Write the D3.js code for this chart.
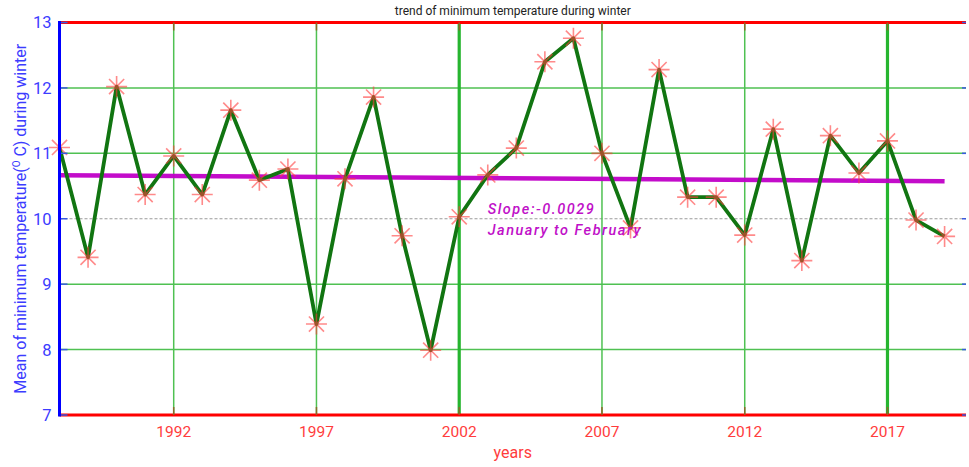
<!DOCTYPE html>
<html>
<head>
<meta charset="utf-8">
<script src="https://cdn.jsdelivr.net/npm/d3@7"></script>
<style>
  html, body { margin: 0; padding: 0; background: #fff; }
  svg { display: block; font-family: Roboto, "Liberation Sans", sans-serif; }
</style>
</head>
<body>
<svg id="chart" width="969" height="467"></svg>
<script>
// Winter (Jan–Feb) mean minimum temperature, one value per year
const years = d3.range(1988, 2020);
const minTemp = [
  11.09, 9.41, 12.02, 10.37, 10.96, 10.37, 11.66, 10.59, 10.76, 8.39,
  10.61, 11.86, 9.74, 7.99, 10.03, 10.67, 11.08, 12.40, 12.76, 11.00,
  9.86, 12.28, 10.33, 10.33, 9.75, 11.37, 9.36, 11.27, 10.70, 11.19,
  9.98, 9.73
];
const xTicks = [1992, 1997, 2002, 2007, 2012, 2017];
const yTicks = [7, 8, 9, 10, 11, 12, 13];
const emphasisYears = [2002, 2017];
const trendSlope = -0.0029;
const trendStartValue = 10.665;
const labelLines = ["Slope:-0.0029", "January to February"];
const labelAnchor = [2003, 10.08];

const svg = d3.select("#chart");
const plotLeft = 59.5, plotRight = 966, plotTop = 22.5, plotBottom = 415;

const x = d3.scaleLinear().domain([1988, 2019.75]).range([plotLeft, plotRight]);
const y = d3.scaleLinear().domain([7, 13]).range([plotBottom, plotTop]);

const gridGreen = "#4fc152";

// horizontal grid
svg.append("g").selectAll("line")
  .data(yTicks.filter(v => v !== 7 && v !== 13 && v !== 10))
  .join("line")
  .attr("x1", plotLeft).attr("x2", plotRight)
  .attr("y1", d => y(d)).attr("y2", d => y(d))
  .attr("stroke", gridGreen).attr("stroke-width", 1.5);

// reference line at 10 °C
svg.append("line")
  .attr("x1", plotLeft).attr("x2", plotRight)
  .attr("y1", y(10)).attr("y2", y(10))
  .attr("stroke", "#9a9a9a").attr("stroke-width", 1.2)
  .attr("stroke-dasharray", "3,2");

// vertical grid
svg.append("g").selectAll("line")
  .data(xTicks)
  .join("line")
  .attr("x1", d => x(d)).attr("x2", d => x(d))
  .attr("y1", plotTop).attr("y2", plotBottom)
  .attr("stroke", d => emphasisYears.includes(d) ? "#26b52f" : gridGreen)
  .attr("stroke-width", d => emphasisYears.includes(d) ? 3.2 : 1.5);

// trend line
svg.append("line")
  .attr("x1", x(1988)).attr("y1", y(trendStartValue))
  .attr("x2", x(2019)).attr("y2", y(trendStartValue + trendSlope * (2019 - 1988)))
  .attr("stroke", "#c000c8").attr("stroke-width", 4.5).attr("opacity", 0.95);

// series line
const pts = years.map((yr, i) => [yr, minTemp[i]]);
svg.append("path")
  .datum(pts)
  .attr("d", d3.line().x(d => x(d[0])).y(d => y(d[1])))
  .attr("fill", "none")
  .attr("stroke", "#117511")
  .attr("stroke-width", 3.8)
  .attr("stroke-linejoin", "round");

// asterisk markers
const r = 10.5, rd = r * 0.72;
const star = `M${-r},0L${r},0M0,${-r}L0,${r}M${-rd},${-rd}L${rd},${rd}M${-rd},${rd}L${rd},${-rd}`;
svg.append("g").selectAll("path")
  .data(pts)
  .join("path")
  .attr("transform", d => `translate(${x(d[0])},${y(d[1])})`)
  .attr("d", star)
  .attr("fill", "none")
  .attr("stroke", "rgba(255,60,60,0.6)")
  .attr("stroke-width", 1.6);

// slope annotation
svg.append("text")
  .attr("x", x(labelAnchor[0])).attr("y", y(labelAnchor[1]))
  .attr("fill", "#c010c8").attr("font-size", 14.5).attr("font-style", "italic")
  .attr("font-weight", 500).attr("letter-spacing", 1.5)
  .selectAll("tspan").data(labelLines).join("tspan")
  .attr("x", x(labelAnchor[0]))
  .attr("dy", (d, i) => i === 0 ? 0 : 21.5)
  .text(d => d);

// frame: top and bottom in red, left in blue
svg.append("line").attr("x1", plotLeft).attr("x2", plotRight).attr("y1", plotTop).attr("y2", plotTop)
  .attr("stroke", "#ff0000").attr("stroke-width", 3);
svg.append("line").attr("x1", plotLeft).attr("x2", plotRight).attr("y1", plotBottom).attr("y2", plotBottom)
  .attr("stroke", "#ff0000").attr("stroke-width", 3);

// x tick marks (inward, top and bottom)
const tickLen = 8;
svg.append("g").selectAll("line").data(xTicks).join("line")
  .attr("x1", d => x(d)).attr("x2", d => x(d))
  .attr("y1", plotBottom).attr("y2", plotBottom - tickLen)
  .attr("stroke", "#8a6a2a").attr("stroke-width", 1.5);
svg.append("g").selectAll("line").data(xTicks).join("line")
  .attr("x1", d => x(d)).attr("x2", d => x(d))
  .attr("y1", plotTop).attr("y2", plotTop + tickLen)
  .attr("stroke", "#8a6a2a").attr("stroke-width", 1.5);

// y tick marks (inward, left and right)
svg.append("g").selectAll("line").data(yTicks).join("line")
  .attr("x1", plotLeft).attr("x2", plotLeft + tickLen)
  .attr("y1", d => y(d)).attr("y2", d => y(d))
  .attr("stroke", "#3a5ae0").attr("stroke-width", 1.5);
svg.append("g").selectAll("line").data(yTicks).join("line")
  .attr("x1", plotRight).attr("x2", plotRight - 4)
  .attr("y1", d => y(d)).attr("y2", d => y(d))
  .attr("stroke", "#3a5ae0").attr("stroke-width", 1.5);

svg.append("line").attr("x1", plotLeft).attr("x2", plotLeft).attr("y1", plotTop - 1.5).attr("y2", plotBottom + 1.5)
  .attr("stroke", "#0000ff").attr("stroke-width", 3);

// y tick labels
svg.append("g").selectAll("text").data(yTicks).join("text")
  .attr("x", plotLeft - 8).attr("y", d => y(d))
  .attr("dy", "0.36em")
  .attr("text-anchor", "end")
  .attr("font-size", 16.5)
  .attr("fill", "#3c3cff")
  .text(d => d);

// x tick labels
svg.append("g").selectAll("text").data(xTicks).join("text")
  .attr("x", d => x(d)).attr("y", 437)
  .attr("text-anchor", "middle")
  .attr("font-size", 15.5)
  .attr("fill", "#ff3c3c")
  .text(d => d);

// axis titles
svg.append("text")
  .attr("x", (plotLeft + plotRight) / 2).attr("y", 458)
  .attr("text-anchor", "middle").attr("font-size", 16)
  .attr("fill", "#ff3c3c").text("years");

const yl = svg.append("text")
  .attr("transform", `translate(26,${(plotTop + plotBottom) / 2}) rotate(-90)`)
  .attr("text-anchor", "middle").attr("font-size", 16)
  .attr("fill", "#3c3cff");
yl.append("tspan").text("Mean of minimum temperature(");
yl.append("tspan").attr("font-size", 10).attr("dy", -6).text("O");
yl.append("tspan").attr("dy", 6).text(" C) during winter");

// chart title
svg.append("text")
  .attr("x", (plotLeft + plotRight) / 2).attr("y", 15)
  .attr("text-anchor", "middle").attr("font-size", 12)
  .attr("fill", "#222").text("trend of minimum temperature during winter");
</script>
</body>
</html>
